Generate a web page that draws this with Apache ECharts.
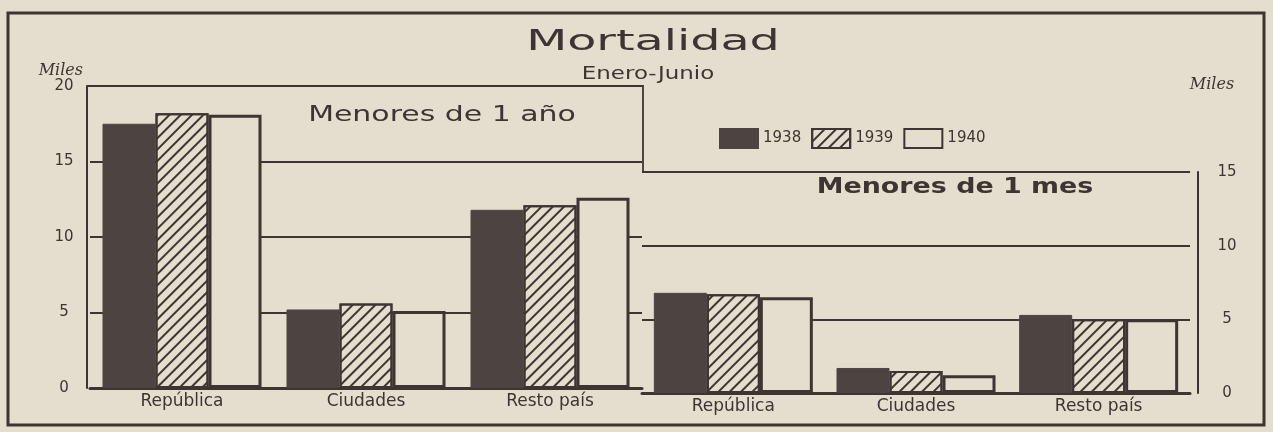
<!DOCTYPE html>
<html><head><meta charset="utf-8">
<script src="https://cdn.jsdelivr.net/npm/echarts@6/dist/echarts.min.js"></script>
<style>html,body{margin:0;padding:0;background:#e4dece}#c{width:1273px;height:432px}</style>
</head><body><div id="c"></div>
<script>
// ---- data (thousands) ----
const categories = ['República', 'Ciudades', 'Resto país'];
const years = ['1938', '1939', '1940'];
// Menores de 1 año (left axis)
const menoresAnio1938 = [17.5, 5.2, 11.8];
const menoresAnio1939 = [18.2, 5.6, 12.1];
const menoresAnio1940 = [18.1, 5.1, 12.6];
// Menores de 1 mes (right axis)
const menoresMes1938 = [6.8, 1.7, 5.3];
const menoresMes1939 = [6.7, 1.5, 5.0];
const menoresMes1940 = [6.5, 1.2, 5.0];
const leftAxisMax = 20;
const rightAxisMax = 15;
const tickStep = 5;

// ---- styles / layout ----
const PAPER = '#e4dece', INK = '#3d3531', DARK = '#4c4440';
const FONT = '"DejaVu Sans", sans-serif';
const yearStyles = [
  { color: DARK, borderColor: DARK, borderWidth: 1 },
  { color: PAPER, borderColor: INK, borderWidth: 2,
    decal: { symbol: 'rect', symbolSize: 1, color: INK, dashArrayX: [1, 0], dashArrayY: [1.3, 6], rotation: -Math.PI / 4 } },
  { color: PAPER, borderColor: INK, borderWidth: 3 }
];
const leftData = [menoresAnio1938, menoresAnio1939, menoresAnio1940];
const rightData = [menoresMes1938, menoresMes1939, menoresMes1940];

const series = [];
[leftData, rightData].forEach((group, gi) => {
  group.forEach((vals, yi) => {
    series.push({
      type: 'bar', name: years[yi], xAxisIndex: gi, yAxisIndex: gi,
      data: vals, barWidth: 53, barGap: '0%',
      itemStyle: yearStyles[yi], emphasis: { disabled: true }, animation: false
    });
  });
});

function catAxis(gi) {
  return {
    gridIndex: gi, type: 'category', data: categories,
    axisTick: { show: false },
    axisLine: { lineStyle: { color: INK, width: 3 } },
    axisLabel: { fontSize: 17, margin: 5, color: INK, fontFamily: FONT }
  };
}
const splitStyle = { lineStyle: { color: INK, width: 1.8 } };

const chart = echarts.init(document.getElementById('c'), null, { renderer: 'canvas' });
chart.setOption({
  backgroundColor: PAPER,
  animation: false,
  textStyle: { fontFamily: FONT, color: INK },
  legend: {
    data: years, left: 714, top: 123, itemWidth: 38, itemHeight: 19, itemGap: 10,
    icon: 'rect', textStyle: { fontSize: 15, color: INK, fontFamily: FONT }
  },
  grid: [
    { left: 90, top: 86, width: 552, height: 302 },
    { left: 642, top: 172, width: 548, height: 221 }
  ],
  xAxis: [catAxis(0), catAxis(1)],
  yAxis: [
    { gridIndex: 0, type: 'value', min: 0, max: leftAxisMax, interval: tickStep, offset: 3,
      axisLine: { show: true, lineStyle: { color: INK, width: 2 } }, axisTick: { show: false },
      splitLine: splitStyle,
      axisLabel: { fontSize: 15, align: 'center', margin: 23, color: INK },
      name: 'Miles', nameLocation: 'end', nameGap: 4,
      nameTextStyle: { fontFamily: '"DejaVu Serif", serif', fontStyle: 'italic', fontSize: 16, color: INK,
        align: 'right', verticalAlign: 'bottom', padding: [0, 4, 0, 0] } },
    { gridIndex: 1, type: 'value', position: 'right', min: 0, max: rightAxisMax, interval: tickStep, offset: 8,
      axisLine: { show: true, lineStyle: { color: INK, width: 2 } }, axisTick: { show: false },
      splitLine: splitStyle,
      axisLabel: { fontSize: 15, align: 'center', margin: 29, color: INK },
      name: 'Miles', nameLocation: 'end', nameGap: 87,
      nameTextStyle: { fontFamily: '"DejaVu Serif", serif', fontStyle: 'italic', fontSize: 16, color: INK,
        align: 'center', verticalAlign: 'middle', padding: [0, 0, 0, 28] } }
  ],
  series: series,
  graphic: [
    { type: 'rect', silent: true, shape: { x: 8, y: 13, width: 1256, height: 412 },
      style: { fill: 'none', stroke: INK, lineWidth: 3 } },
    { type: 'polyline', silent: true, shape: { points: [[87, 86], [643, 86], [643, 172]] },
      style: { fill: 'none', stroke: INK, lineWidth: 1.8 } },
    { type: 'text', silent: true, x: 653, y: 43, scaleX: 1.7,
      style: { text: 'Mortalidad', font: '28px "DejaVu Sans"', fill: INK,
        textAlign: 'center', textVerticalAlign: 'middle', align: 'center', verticalAlign: 'middle' } },
    { type: 'text', silent: true, x: 648, y: 75, scaleX: 1.35,
      style: { text: 'Enero-Junio', font: '17px "DejaVu Sans"', fill: INK,
        textAlign: 'center', textVerticalAlign: 'middle', align: 'center', verticalAlign: 'middle' } },
    { type: 'text', silent: true, x: 442, y: 115, scaleX: 1.36,
      style: { text: 'Menores de 1 año', font: '22px "DejaVu Sans"', fill: INK,
        textAlign: 'center', textVerticalAlign: 'middle', align: 'center', verticalAlign: 'middle' } },
    { type: 'text', silent: true, x: 955, y: 188, scaleX: 1.28,
      style: { text: 'Menores de 1 mes', font: 'bold 21px "DejaVu Sans"', fill: INK,
        textAlign: 'center', textVerticalAlign: 'middle', align: 'center', verticalAlign: 'middle' } }
  ]
});
</script></body></html>
